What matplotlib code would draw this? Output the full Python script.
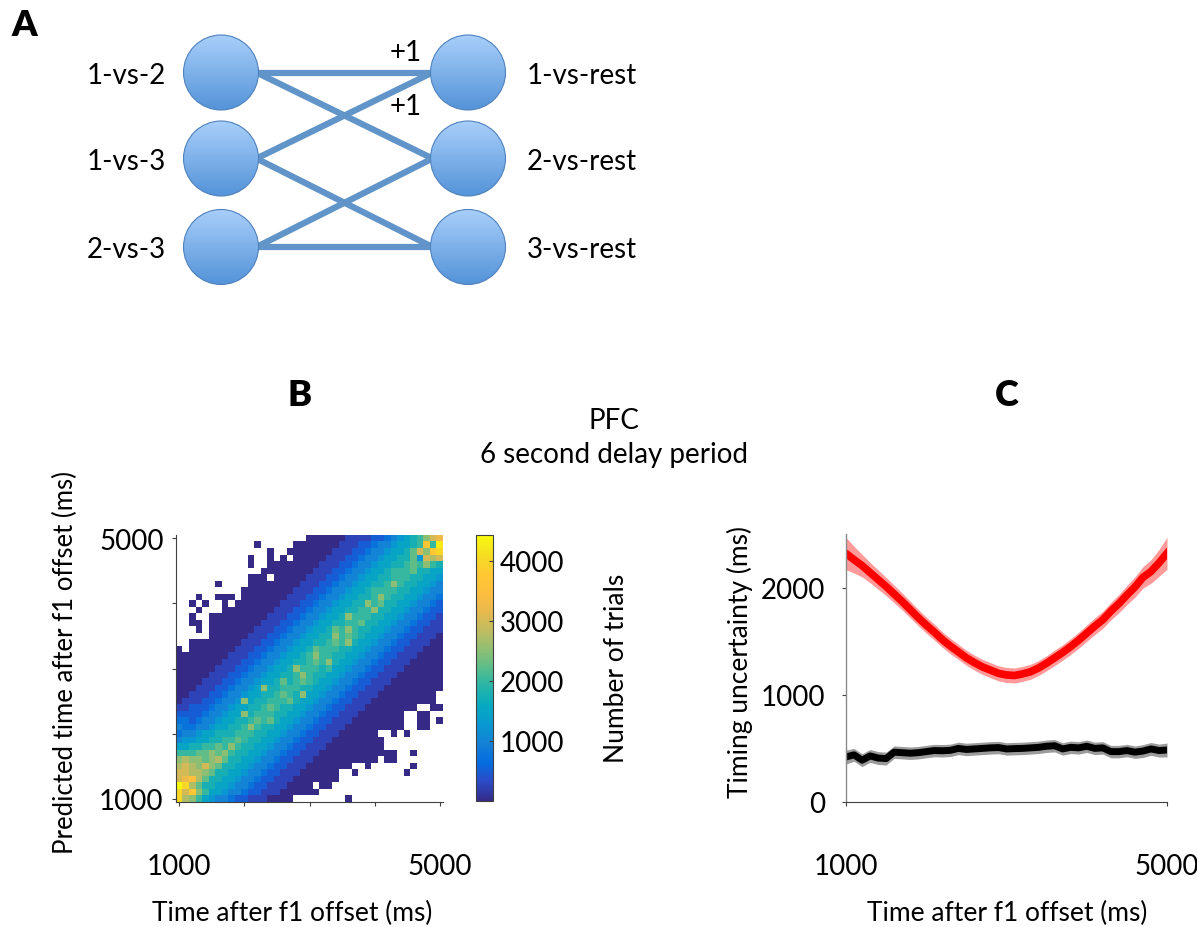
import numpy as np
import matplotlib
matplotlib.use("Agg")
import matplotlib.pyplot as plt
from matplotlib.colors import LinearSegmentedColormap
from matplotlib.patches import Circle

plt.rcParams['font.family'] = ['Lato', 'DejaVu Sans']

# ---- panel A: network diagram
left_nodes = ['1-vs-2', '1-vs-3', '2-vs-3']
right_nodes = ['1-vs-rest', '2-vs-rest', '3-vs-rest']
edges = [(0, 0), (0, 1), (1, 0), (1, 2), (2, 1), (2, 2)]
edge_labels = ['+1', '+1']

# ---- panel B: decoded vs actual time, counts per 100 ms bin
t_bins = np.arange(1000, 5001, 100)
# one char per cell, top row = 5000 ms; '.' = empty, else count = int(ch, 36) * 250
count_rows = [
    "....................000000111122345678acd",
    "............0.....00000001112234456678f8h",
    "..............0..00000001112234456679cafg",
    "...........0..0.0.00000111223445667795cbc",
    "...........0..000000001112234456677898a87",
    ".............0000000011122344566788897766",
    "...........000.00000111223445667788877665",
    "......0....0000000011122344566778a8776654",
    "..........0000000011122344566788887766544",
    "...0..000.000000011122344566778a877665443",
    "..0.0..0.00000001112234456677a89776654432",
    "...0...00000000111223445667788a7766544322",
    "..0..000000000111223445667a88877665443221",
    "..00.000000001112234456677889776654432211",
    "...0.000000011122344566798a87766544322111",
    ".....0000001112234456677a8987665443221110",
    "..000000001112234456677898a76654432211100",
    "0.000000011122344566798887766544322111000",
    "000000001112234456678a8877665443221110000",
    "00000001112234456677898a76654432211100000",
    "000000111223445667a8887866544322111000000",
    "0000011122344566778a877665443221110000000",
    "00001112234456679789876654432211100000000",
    "0001112234456a778887766544322111000000000",
    "0011122344566778987a66544322111000000000.",
    "0111223445a67788897665443221110000000000.",
    "1122234456677898776654432211100000000..00",
    "2222344566a788877665443221110000000..00..",
    "33234456677898976654432211100000000..00.0",
    "43344566778a87766544322111000000000..00..",
    "3445667778887766544322111000000..0.0.....",
    "45566778898776654432211100000000.........",
    "66778898a87766544322111000000000.........",
    "88899a9a87766544322111000000000000..0....",
    "abaa9ab977665443221110000000000.00.......",
    "bcbaca977665443221110000000..0......0....",
    "ccbba97766544322111000000..0.......0.....",
    "cdeb977665443221110000000................",
    "igb977665443221110000.00.................",
    "gcfa866544322111000000...................",
    "gba865443221110000........0..............",
]
assert all(len(row) == len(t_bins) for row in count_rows), [len(r) for r in count_rows]
counts = np.array([[np.nan if ch == '.' else int(ch, 36) * 250.0 for ch in row]
                   for row in count_rows])

# ---- panel C: timing uncertainty
t_c = np.arange(1000, 5001, 100)
red_mean = [2318, 2260, 2205, 2140, 2075, 2010, 1940, 1870, 1795, 1720, 1650,
            1585, 1515, 1455, 1400, 1345, 1300, 1260, 1230, 1200, 1185, 1180,
            1195, 1215, 1250, 1295, 1345, 1395, 1450, 1510, 1575, 1640, 1700,
            1780, 1850, 1930, 2005, 2095, 2150, 2230, 2320]
red_err = [150, 125, 105, 95, 90, 85, 82, 80, 78, 76, 75, 74, 72, 72, 70, 70,
           70, 70, 70, 70, 70, 70, 70, 70, 70, 70, 72, 72, 74, 75, 76, 78, 80,
           82, 85, 90, 95, 100, 110, 125, 150]
black_mean = [420, 440, 390, 430, 410, 405, 465, 460, 455, 460, 470, 480, 478,
              482, 500, 490, 495, 500, 505, 508, 495, 498, 500, 505, 510, 520,
              525, 495, 510, 505, 520, 500, 505, 470, 470, 480, 465, 475, 495,
              480, 485]
black_err = [65, 60, 60, 60, 60, 60, 58, 58, 58, 58, 58, 58, 58, 58, 58, 58,
             58, 58, 58, 58, 58, 58, 58, 58, 58, 58, 58, 58, 58, 58, 58, 58,
             58, 58, 58, 58, 58, 60, 60, 60, 65]

# parula-like colormap
parula_pts = [
    (0.2081, 0.1663, 0.5292), (0.1707, 0.2919, 0.7792), (0.0165, 0.4266, 0.8786),
    (0.0779, 0.5040, 0.8384), (0.0343, 0.5966, 0.8199), (0.0267, 0.6642, 0.7607),
    (0.1453, 0.7098, 0.6646), (0.3482, 0.7424, 0.5473), (0.5709, 0.7485, 0.4494),
    (0.7525, 0.7384, 0.3768), (0.9139, 0.7258, 0.3063), (0.9938, 0.7455, 0.2403),
    (0.9955, 0.7861, 0.1967), (0.9626, 0.8705, 0.1309), (0.9763, 0.9831, 0.0538),
]
parula = LinearSegmentedColormap.from_list('parula', parula_pts)

W, H = 1197, 928
fig = plt.figure(figsize=(W / 100, H / 100), dpi=100)


def fx(px):
    return px / W


def fy(py):
    return 1 - py / H


# overlay in pixel coords for panel A and the panel titles
ax0 = fig.add_axes([0, 0, 1, 1])
ax0.set_xlim(0, W)
ax0.set_ylim(H, 0)
ax0.axis('off')

lx, rx, r = 221, 468, 37.5
node_y = [73.5, 159.5, 248]
for i, j in edges:
    ax0.plot([lx + r - 2, rx - r + 2], [node_y[i], node_y[j]], color='#6194c8',
             lw=4.5, solid_capstyle='butt', zorder=1)
top_col = np.array([0.66, 0.81, 0.98])
bot_col = np.array([0.33, 0.58, 0.85])
grad = top_col + np.linspace(0, 1, 64)[:, None, None] * (bot_col - top_col)
for x in (lx, rx):
    for y in node_y:
        c = Circle((x, y), r, facecolor='none', edgecolor='#4f81bd', lw=0.8, zorder=3)
        ax0.add_patch(c)
        im = ax0.imshow(grad, extent=(x - r, x + r, y + r, y - r), origin='upper',
                        aspect='auto', zorder=2)
        im.set_clip_path(c)
ax0.set_xlim(0, W)
ax0.set_ylim(H, 0)

for name, y in zip(left_nodes, node_y):
    ax0.text(166, y + 2, name, ha='right', va='center', fontsize=20)
for name, y in zip(right_nodes, node_y):
    ax0.text(527, y + 2, name, ha='left', va='center', fontsize=20)
ax0.text(406, 53, edge_labels[0], ha='center', va='center', fontsize=20)
ax0.text(406, 107, edge_labels[1], ha='center', va='center', fontsize=20)

ax0.text(11, 26, 'A', ha='left', va='center', fontsize=26, fontweight='heavy')
ax0.text(300, 396, 'B', ha='center', va='center', fontsize=26, fontweight='heavy')
ax0.text(1007, 396, 'C', ha='center', va='center', fontsize=26, fontweight='heavy')
ax0.text(614, 421, 'PFC', ha='center', va='center', fontsize=20)
ax0.text(614, 455, '6 second delay period', ha='center', va='center', fontsize=20)

# ---- panel B
ax_b = fig.add_axes([fx(176), fy(803), fx(267), 267 / H])
hm = ax_b.imshow(counts, extent=(950, 5050, 950, 5050), origin='upper', cmap=parula,
                 vmin=0, vmax=4430, interpolation='nearest', aspect='auto')
ax_b.set_xlim(950, 5050)
ax_b.set_ylim(950, 5050)
for s in ('top', 'right'):
    ax_b.spines[s].set_visible(False)
for s in ('left', 'bottom'):
    ax_b.spines[s].set_linewidth(0.8)
    ax_b.spines[s].set_color('#404040')
ticks = [1000, 2000, 3000, 4000, 5000]
ax_b.set_xticks(ticks)
ax_b.set_xticklabels(['1000', '', '', '', '5000'])
ax_b.set_yticks(ticks)
ax_b.set_yticklabels(['1000', '', '', '', '5000'])
ax_b.tick_params(axis='x', direction='out', length=3, width=0.8, color='#404040',
                 labelsize=20, pad=34)
ax_b.tick_params(axis='y', direction='out', length=3, width=0.8, color='#404040',
                 labelsize=20, pad=6)

cax = fig.add_axes([fx(476), fy(802), fx(17), 266 / H])
cb = fig.colorbar(hm, cax=cax, ticks=[1000, 2000, 3000, 4000])
cb.outline.set_linewidth(0.8)
cb.outline.set_edgecolor('#404040')
cax.tick_params(direction='in', length=3, width=0.8, color='#404040', labelsize=20, pad=5)

fig.text(fx(617), fy(668), 'Number of trials', rotation=90, ha='center', va='center', fontsize=19)
fig.text(fx(65), fy(662), 'Predicted time after f1 offset (ms)', rotation=90,
         ha='center', va='center', fontsize=18.5)
fig.text(fx(292), fy(913), 'Time after f1 offset (ms)', ha='center', va='center', fontsize=19)

# ---- panel C
ax_c = fig.add_axes([fx(846), fy(803), fx(321), 268 / H])
ax_c.fill_between(t_c, np.array(red_mean) - red_err, np.array(red_mean) + red_err,
                  color='#ff9a9a', lw=0)
ax_c.plot(t_c, red_mean, color='#ff0000', lw=5.5)
ax_c.fill_between(t_c, np.array(black_mean) - black_err, np.array(black_mean) + black_err,
                  color='#9c9c9c', lw=0)
ax_c.plot(t_c, black_mean, color='black', lw=5)
ax_c.set_xlim(1000, 5000)
ax_c.set_ylim(0, 2500)
for s in ('top', 'right'):
    ax_c.spines[s].set_visible(False)
ax_c.spines['left'].set_color('#8a8a8a')
ax_c.spines['left'].set_linewidth(1.0)
ax_c.spines['bottom'].set_color('#404040')
ax_c.spines['bottom'].set_linewidth(0.8)
ax_c.set_xticks([1000, 5000])
ax_c.set_yticks([0, 1000, 2000])
ax_c.tick_params(axis='x', direction='out', length=3, width=0.8, color='#404040',
                 labelsize=20, pad=34)
ax_c.tick_params(axis='y', direction='out', length=3, width=0.8, color='#404040',
                 labelsize=20, pad=12)
fig.text(fx(740), fy(662), 'Timing uncertainty (ms)', rotation=90,
         ha='center', va='center', fontsize=19)
fig.text(fx(1007), fy(913), 'Time after f1 offset (ms)', ha='center', va='center', fontsize=19)

fig.savefig('out.png', dpi=100)
